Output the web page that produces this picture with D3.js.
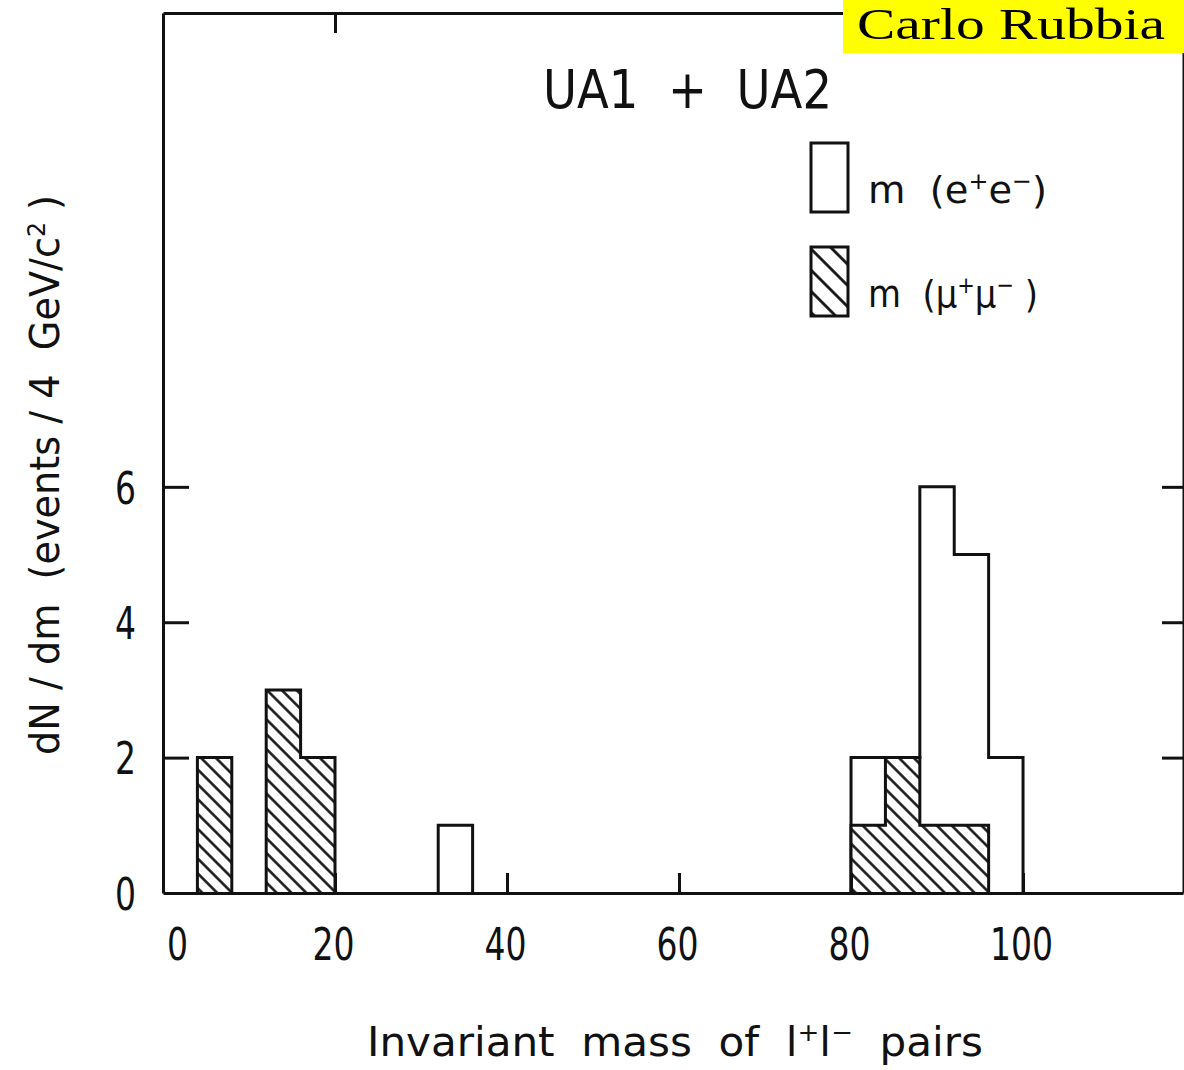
<!DOCTYPE html>
<html>
<head>
<meta charset="utf-8">
<script src="https://cdn.jsdelivr.net/npm/d3@7"></script>
<style>
  html, body { margin: 0; padding: 0; background: #fff; }
  svg { display: block; }
  text { white-space: pre; }
</style>
</head>
<body>
<script>
// ---------------- data ----------------
const binWidth = 4;                         // GeV/c^2 per bin
const eeBinLow    = [32, 80, 84, 88, 92, 96];
const eeCounts    = [ 1,  2,  2,  6,  5,  2];
const mumuBinLow  = [ 4, 12, 16, 80, 84, 88, 92];
const mumuCounts  = [ 2,  3,  2,  1,  2,  1,  1];
const xTickValues = [0, 20, 40, 60, 80, 100];
const xTickLabels = ["0", "20", "40", "60", "80", "100"];
const yTickValues = [0, 2, 4, 6];
const yTickLabels = ["0", "2", "4", "6"];
const topTickValues = [20];
const rightTickValues = [2, 4, 6];
const titleText = "UA1  +  UA2";
const xLabelParts = [["Invariant  mass  of  l", 0], ["+", 1], ["l", 0], ["\u2212", 1], ["  pairs", 0]];
const yLabelParts = [["dN / dm  (events / 4  GeV/c", 0], ["2", 1], [" )", 0]];
const legendItems = [
  { key: "ee",   parts: [["m  (e", 0], ["+", 1], ["e", 0], ["\u2212", 1], [")", 0]] },
  { key: "mumu", parts: [["m  (\u03bc", 0], ["+", 1], ["\u03bc", 0], ["\u2212", 1], [" )", 0]] }
];
const stampText = "Carlo Rubbia";

// ---------------- layout ----------------
const W = 1184, H = 1070;
const x = d3.scaleLinear().domain([0, 118.6]).range([163, 1183]);
const y = d3.scaleLinear().domain([0, 13]).range([893, 13]);
const ink = "#111";
const tickFont = "'DejaVu Sans Condensed', 'DejaVu Sans', sans-serif";

const svg = d3.select("body").append("svg").attr("width", W).attr("height", H);

const defs = svg.append("defs");
function hatch(id, spacing, sw) {
  const p = defs.append("pattern").attr("id", id)
    .attr("patternUnits", "userSpaceOnUse")
    .attr("width", spacing).attr("height", spacing)
    .attr("patternTransform", "rotate(-45)");
  p.append("rect").attr("width", spacing).attr("height", spacing).attr("fill", "#fff");
  p.append("line").attr("x1", spacing / 2).attr("x2", spacing / 2)
    .attr("y1", -1).attr("y2", spacing + 1)
    .attr("stroke", ink).attr("stroke-width", sw);
}
hatch("hatch", 10.5, 2.5);
hatch("hatchLegend", 15, 2.8);

// ---------------- histogram outlines ----------------
function stepPaths(lows, counts) {
  const runs = [];
  lows.forEach((lo, i) => {
    const last = runs[runs.length - 1];
    if (last && last[last.length - 1].lo + binWidth === lo) last.push({ lo, c: counts[i] });
    else runs.push([{ lo, c: counts[i] }]);
  });
  return runs.map(run => {
    const p = d3.path();
    p.moveTo(x(run[0].lo), y(0));
    run.forEach(b => { p.lineTo(x(b.lo), y(b.c)); p.lineTo(x(b.lo + binWidth), y(b.c)); });
    p.lineTo(x(run[run.length - 1].lo + binWidth), y(0));
    return p.toString();
  });
}

const gHist = svg.append("g");
gHist.selectAll("path.ee").data(stepPaths(eeBinLow, eeCounts)).join("path")
  .attr("class", "ee").attr("d", d => d)
  .attr("fill", "#fff").attr("stroke", ink).attr("stroke-width", 3)
  .attr("stroke-linejoin", "miter");
gHist.selectAll("path.mumu").data(stepPaths(mumuBinLow, mumuCounts)).join("path")
  .attr("class", "mumu").attr("d", d => d)
  .attr("fill", "url(#hatch)").attr("stroke", ink).attr("stroke-width", 3)
  .attr("stroke-linejoin", "miter");

// ---------------- axes / frame ----------------
function styleAxis(g) {
  g.select(".domain").attr("stroke", ink).attr("stroke-width", 3);
  g.selectAll(".tick line").attr("stroke", ink).attr("stroke-width", 3);
  g.selectAll(".tick text").attr("fill", ink).attr("font-family", tickFont)
    .attr("font-size", 45);
}

const gBottom = svg.append("g").attr("transform", `translate(0,${y(0)})`)
  .call(d3.axisBottom(x).tickValues(xTickValues).tickSizeInner(-20).tickSizeOuter(0)
    .tickFormat((d, i) => xTickLabels[i]))
  .call(styleAxis);
gBottom.selectAll(".tick text").attr("y", 67).attr("dy", null)
  .attr("dx", d => d === 0 ? 14 : -2)
  .attr("textLength", (d, i) => 21 * xTickLabels[i].length)
  .attr("lengthAdjust", "spacingAndGlyphs");

const gLeft = svg.append("g").attr("transform", `translate(${x(0)},0)`)
  .call(d3.axisLeft(y).tickValues(yTickValues).tickSizeInner(-26).tickSizeOuter(0)
    .tickFormat((d, i) => yTickLabels[i]))
  .call(styleAxis);
gLeft.selectAll(".tick text").attr("x", -27).attr("dy", "0.36em")
  .attr("textLength", 21).attr("lengthAdjust", "spacingAndGlyphs");
gLeft.selectAll(".tick").filter(d => d === 0).select("line").remove();

const gTop = svg.append("g").attr("transform", `translate(0,${y(13)})`)
  .call(d3.axisTop(x).tickValues(topTickValues).tickSizeInner(-20).tickSizeOuter(0).tickFormat(""))
  .call(styleAxis);

const gRight = svg.append("g").attr("transform", `translate(${x(118.6)},0)`)
  .call(d3.axisRight(y).tickValues(rightTickValues).tickSizeInner(-21).tickSizeOuter(0).tickFormat(""))
  .call(styleAxis);
gRight.select(".domain").attr("stroke-width", 2);

// ---------------- texts ----------------
function richText(sel, parts, size) {
  parts.forEach(([t, sup]) => {
    const ts = sel.append("tspan").text(t);
    if (sup) ts.attr("baseline-shift", "super").attr("font-size", size * 0.62);
  });
  return sel;
}

svg.append("text").attr("x", 543).attr("y", 108)
  .attr("font-family", "'DejaVu Sans', sans-serif").attr("font-size", 54).attr("fill", ink)
  .attr("textLength", 289).attr("lengthAdjust", "spacingAndGlyphs")
  .text(titleText);

richText(svg.append("text").attr("x", 367).attr("y", 1056)
  .attr("font-family", tickFont).attr("font-size", 41).attr("fill", ink)
  .attr("textLength", 616).attr("lengthAdjust", "spacingAndGlyphs"), xLabelParts, 41);

richText(svg.append("text").attr("transform", "translate(59,475) rotate(-90)")
  .attr("text-anchor", "middle")
  .attr("font-family", tickFont).attr("font-size", 40).attr("fill", ink)
  .attr("textLength", 560).attr("lengthAdjust", "spacingAndGlyphs"), yLabelParts, 40);

// ---------------- legend ----------------
const legendY = [143, 247];
const legendTextEnd = [1047, 1038];
legendItems.forEach((item, i) => {
  svg.append("rect").attr("x", 811).attr("y", legendY[i]).attr("width", 37).attr("height", 69)
    .attr("fill", item.key === "ee" ? "#fff" : "url(#hatchLegend)")
    .attr("stroke", ink).attr("stroke-width", 3);
  richText(svg.append("text").attr("x", 868).attr("y", legendY[i] + 60)
    .attr("font-family", tickFont).attr("font-size", 38).attr("fill", ink)
    .attr("textLength", legendTextEnd[i] - 868).attr("lengthAdjust", "spacingAndGlyphs"),
    item.parts, 38);
});

// ---------------- stamp ----------------
svg.append("rect").attr("x", 843).attr("y", 0).attr("width", W - 843).attr("height", 53)
  .attr("fill", "#ffff00");
svg.append("text").attr("x", 857).attr("y", 39)
  .attr("font-family", "'Liberation Serif', 'Times New Roman', serif").attr("font-size", 44)
  .attr("fill", "#000").attr("textLength", 308).attr("lengthAdjust", "spacingAndGlyphs")
  .text(stampText);
</script>
</body>
</html>
